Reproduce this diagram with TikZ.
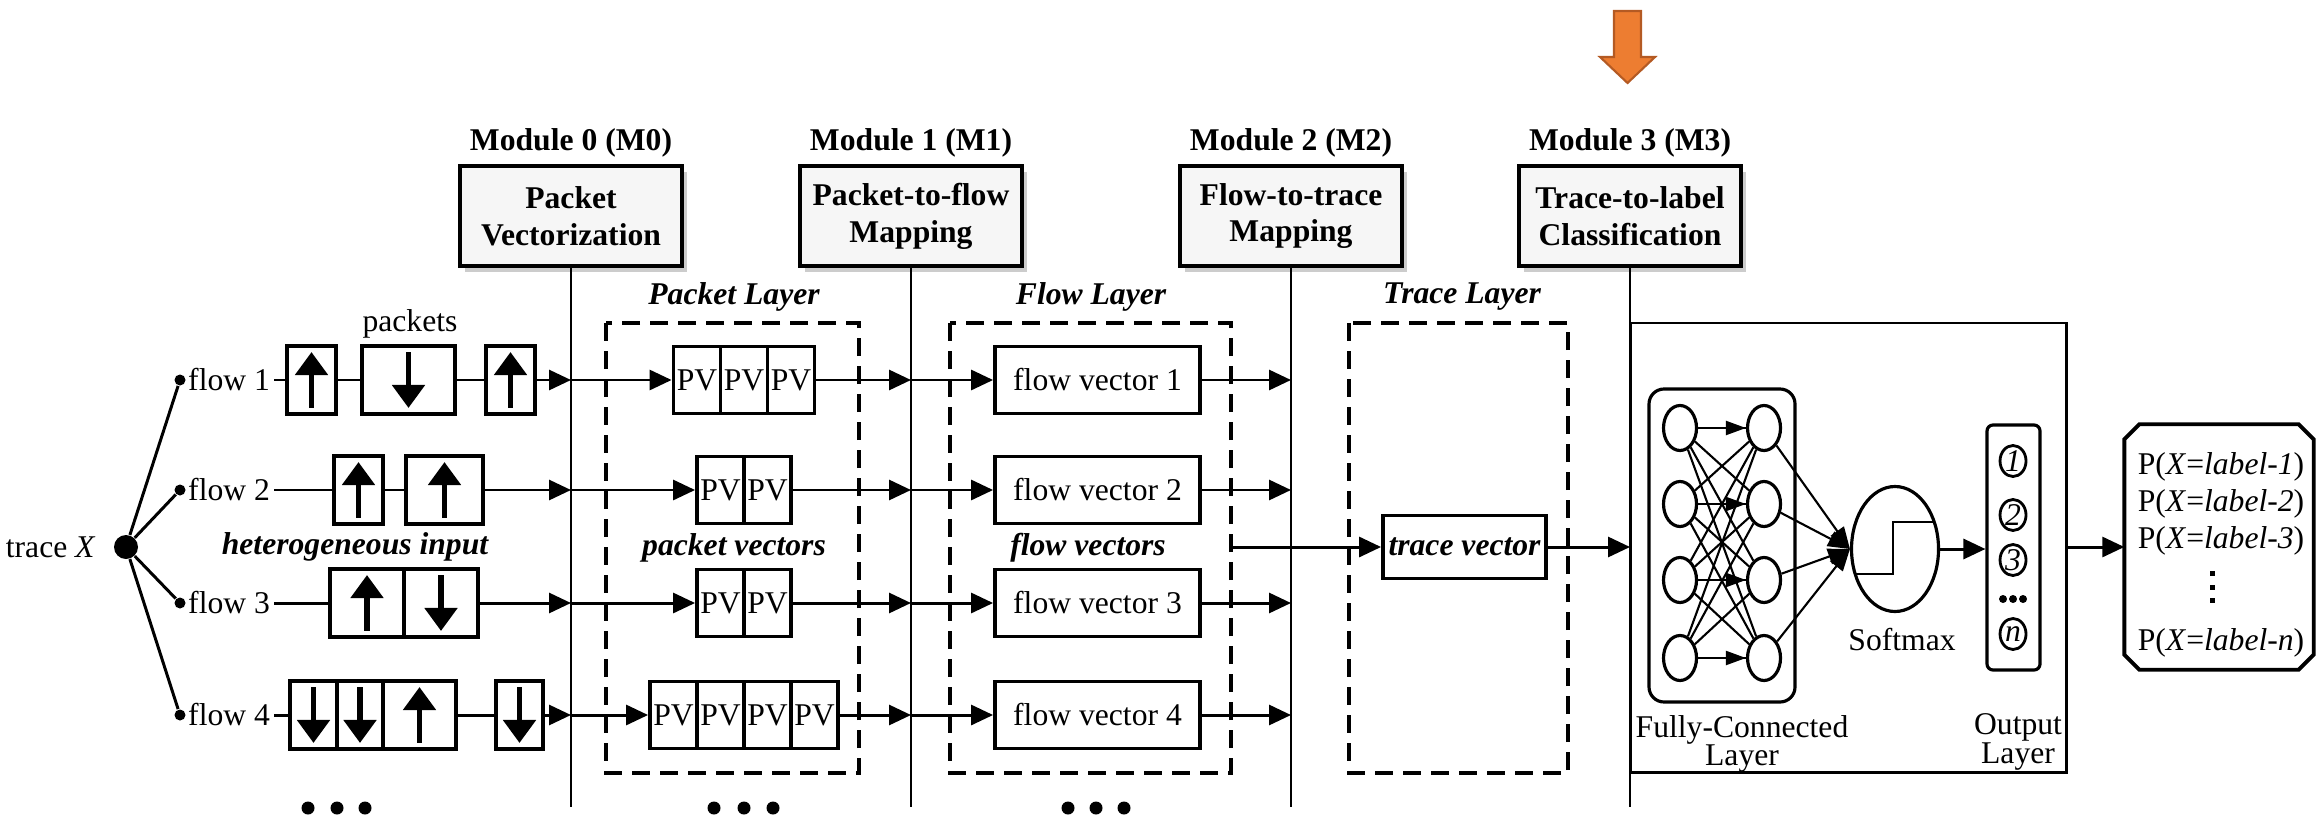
\documentclass[tikz,border=0pt]{standalone}
\usepackage{fontspec}
\setmainfont{Liberation Serif}
\usetikzlibrary{arrows.meta,shapes.geometric,shadows}

\definecolor{arrowor}{RGB}{237,125,49}
\definecolor{arrowed}{RGB}{180,90,35}
\newcommand{\figfont}{\fontsize{9}{10.5}\selectfont}

\tikzset{
  conn/.style={line width=0.85pt},
  arr/.style={conn,-{Triangle[length=0.22cm,width=0.2cm]}},
  modbox/.style={draw,line width=1.1pt,fill=gray!7,minimum width=2.22cm,minimum height=1.0cm,
    align=center,font=\figfont\bfseries,
    drop shadow={shadow xshift=0.05cm,shadow yshift=-0.06cm,fill=black!40,opacity=0.5}},
  modname/.style={font=\figfont\bfseries},
  modline/.style={line width=0.7pt},
  layerbox/.style={line width=0.9pt,dash pattern=on 0.18cm off 0.1cm},
  layername/.style={font=\figfont\bfseries\itshape},
  pkt/.style={draw,line width=1.1pt,minimum height=0.68cm,inner sep=0pt},
  pktarr/.style={line width=1.5pt,-{Triangle[length=0.23cm,width=0.32cm]}},
  pv/.style={draw,line width=1.1pt,minimum height=0.67cm,minimum width=0.47cm,inner sep=0pt},
  fvec/.style={draw,line width=1.1pt,minimum height=0.67cm,minimum width=2.05cm,inner sep=0pt},
  bigdot/.style={circle,fill,inner sep=0pt,minimum size=0.13cm},
  sqdot/.style={rectangle,fill,inner sep=0pt,minimum size=0.05cm},
  neuron/.style={draw,ellipse,line width=0.9pt,minimum width=0.33cm,minimum height=0.45cm,inner sep=0pt},
  fcline/.style={line width=0.6pt},
  fcarr/.style={line width=0.6pt,-{Triangle[length=0.2cm,width=0.14cm]}},
  outcell/.style={draw,ellipse,line width=0.8pt,minimum width=0.26cm,minimum height=0.31cm,inner sep=0pt,font=\figfont\itshape},
}

\begin{document}
\begin{tikzpicture}[font=\figfont]
    \useasboundingbox (0,0) rectangle (23.16,-8.20);
    % orange marker
    \draw [fill=arrowor,draw=arrowed,line width=0.6pt] (16.14,-0.11) -- (16.41,-0.11) -- (16.41,-0.57) -- (16.55,-0.57) -- (16.275,-0.83) -- (16.00,-0.57) -- (16.14,-0.57) -- cycle;

    % modules
    \node [modname] (m0n) at (5.71,-1.43) {Module 0 (M0)};
    \node [modname] (m1n) at (9.11,-1.43) {Module 1 (M1)};
    \node [modname] (m2n) at (12.91,-1.43) {Module 2 (M2)};
    \node [modname] (m3n) at (16.30,-1.43) {Module 3 (M3)};
    \node [modbox] (m0) at (5.71,-2.16) {Packet\\Vectorization};
    \node [modbox] (m1) at (9.11,-2.16) {Packet-to-flow\\Mapping};
    \node [modbox] (m2) at (12.91,-2.16) {Flow-to-trace\\Mapping};
    \node [modbox] (m3) at (16.30,-2.16) {Trace-to-label\\Classification};
    \coordinate (m0b) at (5.71,-8.07);\coordinate (m1b) at (9.11,-8.07);
    \coordinate (m2b) at (12.91,-8.07);\coordinate (m3b) at (16.30,-8.07);
    \draw [modline] (m0.south) -- (m0b);\draw [modline] (m1.south) -- (m1b);
    \draw [modline] (m2.south) -- (m2b);\draw [modline] (m3.south) -- (m3b);

    % layers
    \node [layername] (pl) at (7.34,-2.97) {Packet Layer};
    \node [layername] (fl) at (10.91,-2.97) {Flow Layer};
    \node [layername] (tl) at (14.62,-2.97) {Trace Layer};
    \draw [layerbox] (6.06,-3.23) rectangle (8.59,-7.73);
    \draw [layerbox] (9.50,-3.23) rectangle (12.31,-7.73);
    \draw [layerbox] (13.49,-3.23) rectangle (15.68,-7.73);

    % trace and flows
    \node [bigdot,minimum size=0.24cm] (tx) at (1.26,-5.47) {};
    \node [anchor=east] (txl) at (1.08,-5.47) {trace \textit{X}};
    \node [bigdot,minimum size=0.11cm] (d1) at (1.80,-3.80) {};
    \node [bigdot,minimum size=0.11cm] (d2) at (1.80,-4.90) {};
    \node [bigdot,minimum size=0.11cm] (d3) at (1.80,-6.03) {};
    \node [bigdot,minimum size=0.11cm] (d4) at (1.80,-7.15) {};
    \draw [conn] (tx) -- (d1);\draw [conn] (tx) -- (d2);\draw [conn] (tx) -- (d3);\draw [conn] (tx) -- (d4);
    \node [anchor=west,inner sep=1pt] (f1) at (1.84,-3.80) {flow 1};
    \node [anchor=west,inner sep=1pt] (f2) at (1.84,-4.90) {flow 2};
    \node [anchor=west,inner sep=1pt] (f3) at (1.84,-6.03) {flow 3};
    \node [anchor=west,inner sep=1pt] (f4) at (1.84,-7.15) {flow 4};
    \node (pk) at (4.10,-3.24) {packets};
    \node [layername] (het) at (3.55,-5.47) {heterogeneous input};

    % packets
    \node [pkt,minimum width=0.49cm] (p11) at (3.115,-3.80) {};
    \node [pkt,minimum width=0.93cm] (p12) at (4.085,-3.80) {};
    \node [pkt,minimum width=0.49cm] (p13) at (5.105,-3.80) {};
    \node [pkt,minimum width=0.49cm] (p21) at (3.585,-4.90) {};
    \node [pkt,minimum width=0.77cm] (p22) at (4.445,-4.90) {};
    \node [pkt,minimum width=0.74cm] (p31) at (3.67,-6.03) {};
    \node [pkt,minimum width=0.74cm] (p32) at (4.41,-6.03) {};
    \node [pkt,minimum width=0.47cm] (p41) at (3.135,-7.15) {};
    \node [pkt,minimum width=0.46cm] (p42) at (3.60,-7.15) {};
    \node [pkt,minimum width=0.73cm] (p43) at (4.195,-7.15) {};
    \node [pkt,minimum width=0.47cm] (p44) at (5.195,-7.15) {};
    \draw [pktarr] ([yshift=0.08cm]p11.south) -- ([yshift=-0.08cm]p11.north);
    \draw [pktarr] ([yshift=-0.08cm]p12.north) -- ([yshift=0.08cm]p12.south);
    \draw [pktarr] ([yshift=0.08cm]p13.south) -- ([yshift=-0.08cm]p13.north);
    \draw [pktarr] ([yshift=0.08cm]p21.south) -- ([yshift=-0.08cm]p21.north);
    \draw [pktarr] ([yshift=0.08cm]p22.south) -- ([yshift=-0.08cm]p22.north);
    \draw [pktarr] ([yshift=0.08cm]p31.south) -- ([yshift=-0.08cm]p31.north);
    \draw [pktarr] ([yshift=-0.08cm]p32.north) -- ([yshift=0.08cm]p32.south);
    \draw [pktarr] ([yshift=-0.08cm]p41.north) -- ([yshift=0.08cm]p41.south);
    \draw [pktarr] ([yshift=-0.08cm]p42.north) -- ([yshift=0.08cm]p42.south);
    \draw [pktarr] ([yshift=0.08cm]p43.south) -- ([yshift=-0.08cm]p43.north);
    \draw [pktarr] ([yshift=-0.08cm]p44.north) -- ([yshift=0.08cm]p44.south);

    % points on the module lines
    \coordinate (c01) at (5.71,-3.80);\coordinate (c02) at (5.71,-4.90);\coordinate (c03) at (5.71,-6.03);\coordinate (c04) at (5.71,-7.15);
    \coordinate (c11) at (9.11,-3.80);\coordinate (c12) at (9.11,-4.90);\coordinate (c13) at (9.11,-6.03);\coordinate (c14) at (9.11,-7.15);
    \coordinate (c21) at (12.91,-3.80);\coordinate (c22) at (12.91,-4.90);\coordinate (c23) at (12.91,-6.03);\coordinate (c24) at (12.91,-7.15);
    \coordinate (c3t) at (16.30,-5.47);\coordinate (tstart) at (12.31,-5.47);

    \draw [conn] (f1) -- (p11) -- (p12) -- (p13);\draw [arr] (p13) -- (c01);
    \draw [conn] (f2) -- (p21) -- (p22);\draw [arr] (p22) -- (c02);
    \draw [conn] (f3) -- (p31);\draw [arr] (p32) -- (c03);
    \draw [conn] (f4) -- (p41);\draw [conn] (p43) -- (p44);\draw [arr] (p44) -- (c04);

    % packet vectors
    \node [pv] (v11) at (6.97,-3.80) {PV};\node [pv] (v12) at (7.44,-3.80) {PV};\node [pv] (v13) at (7.91,-3.80) {PV};
    \node [pv] (v21) at (7.205,-4.90) {PV};\node [pv] (v22) at (7.675,-4.90) {PV};
    \node [pv] (v31) at (7.205,-6.03) {PV};\node [pv] (v32) at (7.675,-6.03) {PV};
    \node [pv] (v41) at (6.735,-7.15) {PV};\node [pv] (v42) at (7.205,-7.15) {PV};\node [pv] (v43) at (7.675,-7.15) {PV};\node [pv] (v44) at (8.145,-7.15) {PV};
    \node [layername] (pvl) at (7.34,-5.48) {packet vectors};
    \draw [arr] (c01) -- (v11);\draw [arr] (v13) -- (c11);
    \draw [arr] (c02) -- (v21);\draw [arr] (v22) -- (c12);
    \draw [arr] (c03) -- (v31);\draw [arr] (v32) -- (c13);
    \draw [arr] (c04) -- (v41);\draw [arr] (v44) -- (c14);

    % flow vectors
    \node [fvec] (fv1) at (10.975,-3.80) {flow vector 1};
    \node [fvec] (fv2) at (10.975,-4.90) {flow vector 2};
    \node [fvec] (fv3) at (10.975,-6.03) {flow vector 3};
    \node [fvec] (fv4) at (10.975,-7.15) {flow vector 4};
    \node [layername] (fvl) at (10.88,-5.48) {flow vectors};
    \draw [arr] (c11) -- (fv1);\draw [arr] (fv1) -- (c21);
    \draw [arr] (c12) -- (fv2);\draw [arr] (fv2) -- (c22);
    \draw [arr] (c13) -- (fv3);\draw [arr] (fv3) -- (c23);
    \draw [arr] (c14) -- (fv4);\draw [arr] (fv4) -- (c24);

    % trace vector
    \node [fvec,minimum width=1.63cm,minimum height=0.63cm,font=\figfont\bfseries\itshape] (tv) at (14.645,-5.47) {trace vector};
    \draw [arr] (tstart) -- (tv);\draw [arr] (tv) -- (c3t);

    % classifier
    \draw [conn] (16.30,-3.23) rectangle (20.66,-7.72);
    \node [draw,line width=0.9pt,rounded corners=0.15cm,minimum width=1.46cm,minimum height=3.13cm] (fc) at (17.22,-5.455) {};
    \foreach \i/\y in {1/-4.28,2/-5.04,3/-5.80,4/-6.58} {
        \node [neuron] (a\i) at (16.80,\y) {};
        \node [neuron] (b\i) at (17.64,\y) {};
    }
    \foreach \i in {1,...,4} \foreach \j in {1,...,4} \draw [fcline] (a\i) -- (b\j);
    \foreach \i in {1,...,4} \draw [fcarr] (a\i) -- (b\i);
    \node [draw,ellipse,line width=0.9pt,minimum width=0.87cm,minimum height=1.25cm,inner sep=0pt] (sm) at (18.95,-5.49) {};
    \draw [line width=0.8pt] (18.55,-5.74) -- (18.93,-5.74) -- (18.93,-5.22) -- (19.34,-5.22);
    \foreach \i in {1,...,4} \draw [fcline,-{Triangle[length=0.22cm,width=0.16cm]}] (b\i) -- (sm.west);
    \node (sml) at (19.02,-6.40) {Softmax};
    \node [align=center,font=\fontsize{9}{8.2}\selectfont] (fcl) at (17.42,-7.44) {Fully-Connected\\Layer};

    \node [draw,line width=0.9pt,rounded corners=0.06cm,minimum width=0.53cm,minimum height=2.45cm] (ol) at (20.135,-5.475) {};
    \node [outcell] (o1) at (20.13,-4.61) {1};
    \node [outcell] (o2) at (20.13,-5.15) {2};
    \node [outcell] (o3) at (20.13,-5.60) {3};
    \node [outcell] (on) at (20.13,-6.34) {n};
    \node [bigdot,minimum size=0.08cm] (od1) at (20.03,-5.99) {};
    \node [bigdot,minimum size=0.08cm] (od2) at (20.13,-5.99) {};
    \node [bigdot,minimum size=0.08cm] (od3) at (20.23,-5.99) {};
    \node [align=center,font=\fontsize{9}{8.2}\selectfont] (oll) at (20.18,-7.42) {Output\\Layer};
    \draw [arr] (sm.east) -- (sm.east -| ol.west);

    % probabilities
    \coordinate (bbr) at (20.66,-5.47);
    \node [minimum width=1.88cm,minimum height=2.44cm,inner sep=0pt] (pb) at (22.19,-5.47) {};
    \node [align=center,inner sep=0pt] (pbt) at (22.21,-5.04)
        {P(\textit{X}=\textit{label-1})\\P(\textit{X}=\textit{label-2})\\P(\textit{X}=\textit{label-3})};
    \node [sqdot] (q1) at (22.12,-5.73) {};\node [sqdot] (q2) at (22.12,-5.87) {};\node [sqdot] (q3) at (22.12,-6.00) {};
    \node [inner sep=0pt] (pbn) at (22.21,-6.43) {P(\textit{X}=\textit{label-n})};
    \draw [conn,line width=1.1pt] ([xshift=0.15cm]pb.north west) -- ([xshift=-0.15cm]pb.north east) -- ([yshift=-0.15cm]pb.north east) -- ([yshift=0.15cm]pb.south east) -- ([xshift=-0.15cm]pb.south east) -- ([xshift=0.15cm]pb.south west) -- ([yshift=0.15cm]pb.south west) -- ([yshift=-0.15cm]pb.north west) -- cycle;
    \draw [arr] (bbr) -- (pb);

    % more flows
    \node [bigdot] (e1) at (3.08,-8.08) {};\node [bigdot] (e2) at (3.37,-8.08) {};\node [bigdot] (e3) at (3.65,-8.08) {};
    \node [bigdot] (e4) at (7.14,-8.08) {};\node [bigdot] (e5) at (7.44,-8.08) {};\node [bigdot] (e6) at (7.73,-8.08) {};
    \node [bigdot] (e7) at (10.68,-8.08) {};\node [bigdot] (e8) at (10.96,-8.08) {};\node [bigdot] (e9) at (11.24,-8.08) {};
\end{tikzpicture}
\end{document}
